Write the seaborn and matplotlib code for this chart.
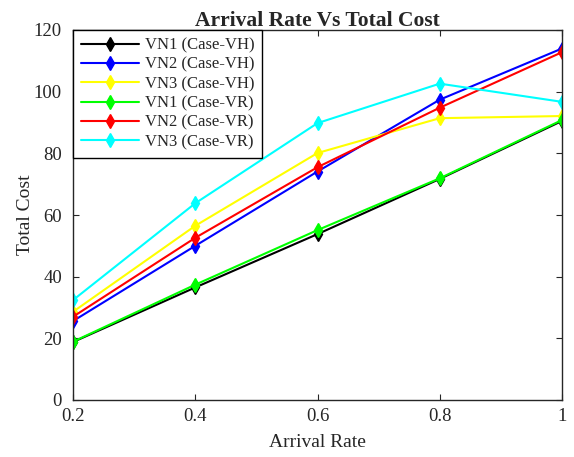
import numpy as np
import pandas as pd
import seaborn as sns
import matplotlib.pyplot as plt

arrival_rate = [0.2, 0.4, 0.6, 0.8, 1.0]
vn1_vh = [18.8, 36.5, 53.8, 71.7, 90.5]
vn2_vh = [25.6, 50.0, 74.1, 97.4, 114.0]
vn3_vh = [28.6, 56.5, 80.1, 91.4, 92.1]
vn1_vr = [18.9, 37.4, 55.1, 71.9, 90.8]
vn2_vr = [27.0, 52.6, 75.5, 94.8, 112.8]
vn3_vr = [32.4, 63.8, 89.8, 102.6, 96.7]

names = ["VN1 (Case-VH)", "VN2 (Case-VH)", "VN3 (Case-VH)",
         "VN1 (Case-VR)", "VN2 (Case-VR)", "VN3 (Case-VR)"]
series = [vn1_vh, vn2_vh, vn3_vh, vn1_vr, vn2_vr, vn3_vr]
colors = ["#000000", "#0000ff", "#ffff00", "#00ff00", "#ff0000", "#00ffff"]

df = pd.DataFrame({
    "Arrival Rate": np.tile(arrival_rate, len(names)),
    "Total Cost": np.concatenate(series),
    "Series": np.repeat(names, len(arrival_rate)),
})

sns.set_style("ticks")
plt.rcParams['font.family'] = ['Liberation Serif', 'DejaVu Serif']

fig = plt.figure(figsize=(5.74, 4.57), dpi=100)
ax = fig.add_axes([73 / 574, 1 - 400 / 457, 489 / 574, 370 / 457])

sns.lineplot(data=df, x="Arrival Rate", y="Total Cost", hue="Series",
             hue_order=names, palette=dict(zip(names, colors)),
             style="Series", markers={n: "d" for n in names},
             dashes=False, markersize=7.5, linewidth=1.5,
             markeredgewidth=1, ax=ax)
for line in ax.lines:
    line.set_markeredgecolor(line.get_color())

ax.set_xlim(0.2, 1.0)
ax.set_ylim(0, 120)
ax.set_xticks(arrival_rate)
ax.set_xticklabels(["0.2", "0.4", "0.6", "0.8", "1"])
ax.set_yticks(range(0, 121, 20))
ax.tick_params(direction="in", top=True, right=True, labelsize=13.5,
               colors="#262626", length=4)
ax.tick_params(axis="y", pad=8)
ax.tick_params(axis="x", pad=6)
for s in ax.spines.values():
    s.set_visible(True)
    s.set_color("#262626")
    s.set_linewidth(1.0)

ax.set_xlabel("Arrival Rate", fontsize=14, color="#262626", labelpad=6)
ax.set_ylabel("Total Cost", fontsize=14, color="#262626", labelpad=0)
ax.set_title("Arrival Rate Vs Total Cost", fontsize=15.5, fontweight="bold", pad=3)

leg = ax.legend(loc="upper left", bbox_to_anchor=(0, 1), borderaxespad=0,
                fontsize=12, handlelength=3.5, handletextpad=0.35,
                fancybox=False, framealpha=1, edgecolor="#000000",
                labelspacing=0.2, borderpad=0.45)
leg.get_frame().set_linewidth(1.0)

fig.savefig("out.png", dpi=100)
